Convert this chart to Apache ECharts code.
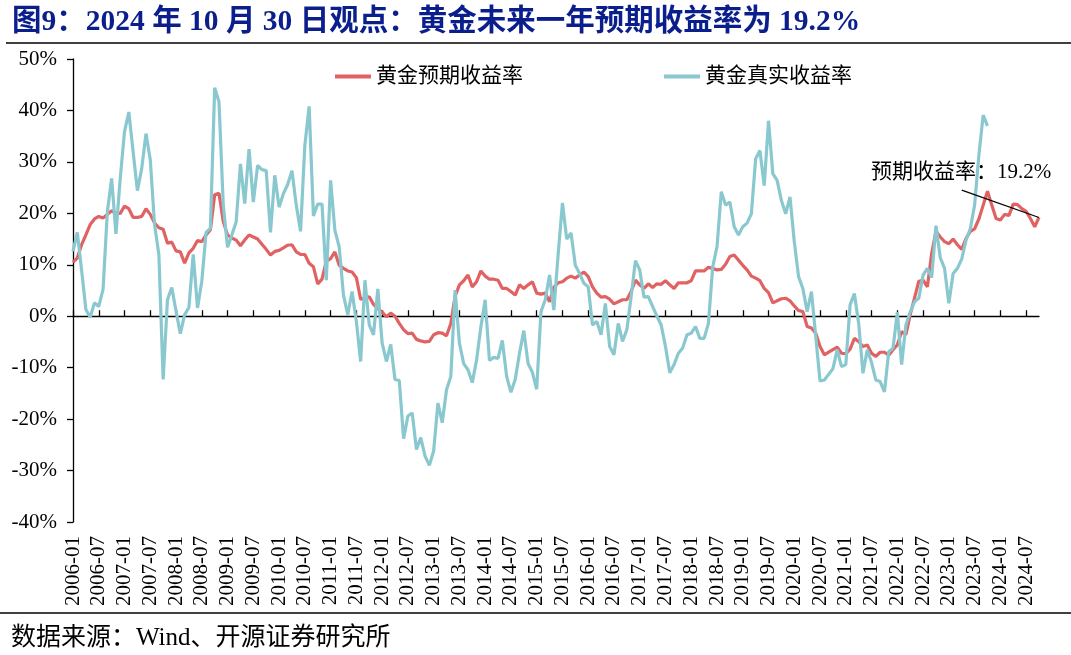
<!DOCTYPE html>
<html>
<head>
<meta charset="utf-8">
<script src="https://cdn.jsdelivr.net/npm/echarts@6/dist/echarts.min.js"></script>
<style>
html,body{margin:0;padding:0;background:#fff;}
#chart{width:1071px;height:655px;}
</style>
</head>
<body>
<div id="chart"></div>
<script>
// ---- data ----
const startYear = 2006, startMonth = 1, endYear = 2024, endMonth = 10;
const categories = [];
for (let y = startYear, m = startMonth; y < endYear || (y === endYear && m <= endMonth); ) {
  categories.push(y + '-' + (m < 10 ? '0' + m : '' + m));
  m++; if (m > 12) { m = 1; y++; }
}
const yTicks = [-40, -30, -20, -10, 0, 10, 20, 30, 40, 50];

const expectedReturn = [
  10.5,11.3,13.9,15.8,17.8,18.9,19.4,19.1,19.8,20.5,20.0,20.0,
  21.4,20.9,19.2,19.2,19.4,20.9,19.8,18.1,17.2,16.9,14.2,14.4,
  12.7,12.5,10.3,12.3,13.2,14.7,14.5,15.8,16.8,23.6,23.9,18.4,
  15.8,15.2,14.8,13.7,14.8,15.8,15.4,15.0,14.0,13.0,11.9,12.6,
  12.8,13.3,13.8,13.9,12.5,12.0,12.0,10.3,9.6,6.3,7.2,10.7,
  11.2,12.5,9.9,9.3,8.8,8.6,7.5,3.3,3.5,3.8,2.3,1.5,
  0.8,-0.1,0.6,0.0,-1.4,-2.6,-3.4,-3.3,-4.5,-4.8,-5.0,-4.9,
  -3.6,-3.2,-3.3,-3.8,-1.4,3.9,6.1,6.9,8.0,5.7,6.7,8.8,
  7.8,7.2,7.2,7.0,5.4,5.4,4.8,4.1,6.1,5.4,6.1,6.7,
  4.5,4.3,4.5,2.8,5.6,6.5,6.7,7.4,7.8,7.4,8.0,8.6,
  7.7,5.7,4.5,3.7,3.8,3.3,2.4,2.8,3.2,3.2,4.8,7.0,
  6.1,5.4,6.3,5.6,6.3,6.2,6.9,6.1,5.4,6.5,6.5,6.5,
  6.9,8.8,8.8,8.8,9.5,9.3,9.0,9.1,10.1,11.6,11.9,10.9,
  9.9,9.0,7.8,7.4,6.9,5.4,4.6,2.6,3.0,3.4,3.5,3.0,
  2.0,1.1,0.9,-2.0,-2.3,-3.3,-5.9,-7.5,-7.0,-6.5,-6.0,-7.2,
  -7.3,-6.4,-4.3,-4.9,-5.9,-5.6,-7.2,-7.8,-7.0,-7.0,-7.6,-6.5,
  -5.6,-3.0,-3.6,0.3,3.5,6.8,7.0,5.7,12.2,16.5,15.4,14.5,
  14.1,15.0,13.9,13.0,15.1,16.5,17.0,18.9,21.6,24.3,21.6,19.0,
  18.7,19.8,19.6,21.8,21.7,20.9,20.4,19.0,17.4,19.2
];

const realReturn = [
  12.6,16.3,9.0,1.3,-0.2,2.6,1.9,5.2,20.3,26.8,16.0,26.8,
  35.9,39.7,32.0,24.4,28.7,35.5,30.4,17.8,12.0,-12.3,3.2,5.6,
  1.0,-3.4,0.3,1.7,12.0,1.6,6.8,16.3,17.1,44.4,41.7,21.6,
  13.4,15.8,18.3,29.6,21.9,32.5,22.2,29.3,28.5,28.3,16.3,27.4,
  21.2,23.8,25.6,28.3,21.6,16.5,33.2,40.8,19.5,21.8,21.8,7.0,
  26.4,16.7,13.5,4.1,0.3,4.8,-1.0,-8.8,7.0,-1.7,-3.6,5.3,
  -5.2,-8.8,-5.5,-12.3,-12.5,-23.8,-19.4,-18.8,-25.9,-23.6,-27.2,-29.0,
  -26.2,-16.9,-20.7,-14.3,-11.7,5.1,-5.2,-9.2,-10.4,-12.9,-8.5,-2.1,
  3.2,-8.6,-8.0,-8.2,-4.7,-11.7,-14.8,-12.3,-7.2,-2.8,-9.2,-10.9,
  -14.2,0.9,3.2,8.0,1.2,12.0,22.0,15.0,16.2,9.9,8.3,6.4,
  5.7,-1.7,-1.0,-3.6,2.5,-5.9,-7.5,-1.4,-4.9,-2.6,3.8,10.8,
  9.0,3.7,3.8,1.9,0.0,-1.7,-5.9,-11.0,-9.4,-7.2,-6.2,-3.6,
  -3.3,-2.0,-4.3,-4.3,-1.4,9.6,13.5,24.2,21.6,22.2,17.4,15.8,
  17.4,18.1,19.9,30.6,32.2,25.4,38.0,27.7,26.4,22.5,19.9,23.2,
  14.5,7.7,5.4,0.9,4.8,-3.9,-12.6,-12.4,-11.3,-10.2,-6.5,-9.8,
  -9.4,2.2,4.4,-1.4,-11.1,-6.5,-9.0,-12.4,-12.7,-14.7,-6.9,-6.2,
  0.8,-9.4,-1.7,0.8,2.8,3.5,8.0,9.3,7.5,17.6,11.4,9.3,
  2.5,8.3,9.3,11.1,14.8,17.0,21.6,31.3,39.1,37.0
];

const seriesNames = ['黄金预期收益率', '黄金真实收益率'];
const titleText = '图9：2024 年 10 月 30 日观点：黄金未来一年预期收益率为 19.2%';
const sourceText = '数据来源：Wind、开源证券研究所';
const annotationText = '预期收益率：19.2%';
const annotationStart = ['2023-04', 24.5];

// ---- chart ----
const serif = '"Liberation Serif", "Times New Roman", "Noto Sans CJK SC", serif';
const chart = echarts.init(document.getElementById('chart'), null, {renderer: 'canvas'});
const lastIdx = expectedReturn.length - 1;

chart.setOption({
  animation: false,
  backgroundColor: '#fff',
  title: [
    {text: titleText, left: 7, top: 3,
     textStyle: {fontFamily: serif, fontSize: 29.5, fontWeight: 'bold', color: '#0A1E8C'}},
    {text: sourceText, left: 6, top: 621,
     textStyle: {fontFamily: serif, fontSize: 25, fontWeight: 'normal', color: '#000'}}
  ],
  legend: {
    left: 330, top: 61, icon: 'rect', itemWidth: 36, itemHeight: 4, itemGap: 141,
    textStyle: {fontFamily: serif, fontSize: 21, color: '#000'},
    data: seriesNames
  },
  grid: {left: 73, right: 32, top: 59, bottom: 133, outerBoundsMode: 'none'},
  xAxis: [
    {
      type: 'category', data: categories, boundaryGap: false, position: 'bottom',
      axisLine: {show: false, onZero: false},
      axisTick: {show: false},
      axisLabel: {interval: 5, rotate: 90, margin: 14, fontFamily: serif, fontSize: 21, color: '#000'},
      splitLine: {show: false}
    },
    {
      type: 'category', data: categories, boundaryGap: false, position: 'bottom',
      axisLine: {show: true, onZero: true, lineStyle: {color: '#000', width: 1.3}},
      axisTick: {show: true, inside: true, interval: 5, length: 6, lineStyle: {color: '#000', width: 1.3}},
      axisLabel: {show: false},
      splitLine: {show: false}
    }
  ],
  yAxis: {
    type: 'value', min: yTicks[0], max: yTicks[yTicks.length - 1], interval: 10,
    axisLine: {show: true, lineStyle: {color: '#000', width: 1.3}},
    axisTick: {show: true, length: 6, lineStyle: {color: '#000', width: 1.3}},
    axisLabel: {formatter: '{value}%', margin: 16, fontFamily: serif, fontSize: 21, color: '#000'},
    splitLine: {show: false}
  },
  series: [
    {
      name: seriesNames[0], type: 'line', data: expectedReturn, showSymbol: false, symbol: 'none',
      lineStyle: {color: '#E06262', width: 3.2}, itemStyle: {color: '#E06262'},
      markLine: {
        silent: true, symbol: 'none', animation: false,
        lineStyle: {color: '#000', width: 1.2, type: 'solid'},
        label: {show: false},
        emphasis: {disabled: true},
        data: [[{coord: annotationStart}, {coord: [categories[lastIdx], expectedReturn[lastIdx]]}]]
      }
    },
    {
      name: seriesNames[1], type: 'line', data: realReturn, showSymbol: false, symbol: 'none',
      lineStyle: {color: '#8AC8D0', width: 3.2}, itemStyle: {color: '#8AC8D0'}
    }
  ],
  graphic: [
    {type: 'line', shape: {x1: 6, y1: 43, x2: 1071, y2: 43}, style: {stroke: '#000', lineWidth: 1.3}},
    {type: 'line', shape: {x1: 0, y1: 613, x2: 1071, y2: 613}, style: {stroke: '#000', lineWidth: 1.3}},
    {type: 'text', left: 871, top: 162,
     style: {text: annotationText, fontFamily: serif, fontSize: 21, fill: '#000'}}
  ]
});
</script>
</body>
</html>
